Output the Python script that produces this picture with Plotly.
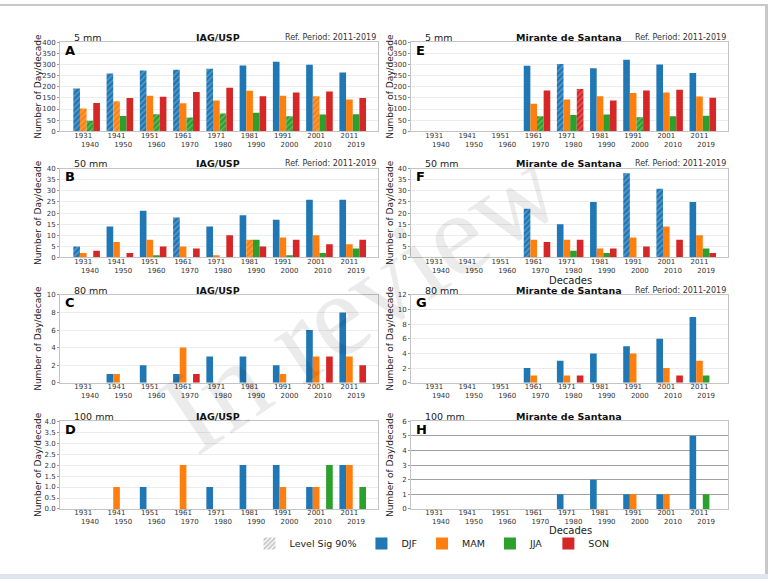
import plotly.graph_objects as go

W, H = 768, 583

# ---------------- data ----------------
tick_start = ["1931", "1941", "1951", "1961", "1971", "1981", "1991", "2001", "2011"]
tick_end = ["1940", "1950", "1960", "1970", "1980", "1990", "2000", "2010", "2019"]
seasons = ["DJF", "MAM", "JJA", "SON"]
season_colors = ["#1f77b4", "#ff7f0e", "#2ca02c", "#d62728"]

# Panel A: IAG/USP, 5 mm
A_DJF = [193, 260, 274, 277, 282, 296, 313, 300, 265]
A_MAM = [102, 135, 160, 126, 138, 182, 160, 158, 143]
A_JJA = [47, 69, 77, 62, 80, 83, 68, 75, 76]
A_SON = [127, 150, 155, 177, 196, 158, 174, 179, 150]
A_sig_DJF = [1, 1, 1, 1, 1, 0, 0, 0, 0]
A_sig_MAM = [1, 1, 0, 0, 0, 0, 0, 1, 0]
A_sig_JJA = [1, 0, 1, 1, 1, 0, 1, 0, 0]
A_sig_SON = [0, 0, 0, 0, 0, 0, 0, 0, 0]

# Panel B: IAG/USP, 50 mm
B_DJF = [5, 14, 21, 18, 14, 19, 17, 26, 26]
B_MAM = [2, 7, 8, 5, 1, 8, 9, 10, 6]
B_JJA = [0, 0, 1, 0, 0, 8, 1, 2, 4]
B_SON = [3, 2, 5, 4, 10, 5, 8, 6, 8]
B_sig_DJF = [1, 0, 0, 1, 0, 0, 0, 0, 0]
B_sig_MAM = [0, 0, 0, 0, 0, 1, 0, 0, 0]

# Panel C: IAG/USP, 80 mm
C_DJF = [0, 1, 2, 1, 3, 3, 2, 6, 8]
C_MAM = [0, 1, 0, 4, 0, 0, 1, 3, 3]
C_JJA = [0, 0, 0, 0, 0, 0, 0, 0, 0]
C_SON = [0, 0, 0, 1, 0, 0, 0, 3, 2]

# Panel D: IAG/USP, 100 mm
D_DJF = [0, 0, 1, 0, 1, 2, 2, 1, 2]
D_MAM = [0, 1, 0, 2, 0, 0, 1, 1, 2]
D_JJA = [0, 0, 0, 0, 0, 0, 0, 2, 1]
D_SON = [0, 0, 0, 0, 0, 0, 0, 0, 0]

# Panel E: Mirante de Santana, 5 mm
E_DJF = [0, 0, 0, 295, 303, 284, 322, 301, 262]
E_MAM = [0, 0, 0, 124, 143, 158, 172, 174, 156]
E_JJA = [0, 0, 0, 67, 73, 75, 63, 68, 70]
E_SON = [0, 0, 0, 183, 190, 138, 184, 187, 151]
E_sig_DJF = [0, 0, 0, 0, 1, 0, 0, 0, 0]
E_sig_JJA = [0, 0, 0, 1, 0, 0, 1, 0, 0]
E_sig_SON = [0, 0, 0, 0, 1, 0, 0, 0, 0]

# Panel F: Mirante de Santana, 50 mm
F_DJF = [0, 0, 0, 22, 15, 25, 38, 31, 25]
F_MAM = [0, 0, 0, 8, 8, 4, 9, 14, 10]
F_JJA = [0, 0, 0, 0, 3, 2, 0, 0, 4]
F_SON = [0, 0, 0, 7, 8, 4, 5, 8, 2]
F_sig_DJF = [0, 0, 0, 1, 0, 0, 1, 1, 0]

# Panel G: Mirante de Santana, 80 mm
G_DJF = [0, 0, 0, 2, 3, 4, 5, 6, 9]
G_MAM = [0, 0, 0, 1, 1, 0, 4, 2, 3]
G_JJA = [0, 0, 0, 0, 0, 0, 0, 0, 1]
G_SON = [0, 0, 0, 0, 1, 0, 0, 1, 0]

# Panel H: Mirante de Santana, 100 mm
H_DJF = [0, 0, 0, 0, 1, 2, 1, 1, 5]
H_MAM = [0, 0, 0, 0, 0, 0, 1, 1, 0]
H_JJA = [0, 0, 0, 0, 0, 0, 0, 0, 1]
H_SON = [0, 0, 0, 0, 0, 0, 0, 0, 0]

zeros = [0] * 9

# ---------------- layout helpers ----------------
def px_x(x):
    return x / W


def px_y(y):
    return 1 - y / H


col_px = [(60, 378), (411, 728)]
row_px = [(39, 129), (167, 257), (295, 384), (423, 512)]

panels = [
    ("A", 0, 0, [A_DJF, A_MAM, A_JJA, A_SON], [A_sig_DJF, A_sig_MAM, A_sig_JJA, A_sig_SON], 400, 50, "5 mm", "IAG/USP", True, [0, 1, 2, 3], None),
    ("B", 0, 1, [B_DJF, B_MAM, B_JJA, B_SON], [B_sig_DJF, B_sig_MAM, zeros, zeros], 40, 5, "50 mm", "IAG/USP", True, [0, 1, 2, 3], None),
    ("C", 0, 2, [C_DJF, C_MAM, C_JJA, C_SON], [zeros] * 4, 10, 2, "80 mm", "IAG/USP", False, [0, 1, 2, 3], None),
    ("D", 0, 3, [D_DJF, D_MAM, D_JJA, D_SON], [zeros] * 4, 4, 0.5, "100 mm", "IAG/USP", False, [0, 1, 3, 2], ".1f"),
    ("E", 1, 0, [E_DJF, E_MAM, E_JJA, E_SON], [E_sig_DJF, zeros, E_sig_JJA, E_sig_SON], 400, 50, "5 mm", "Mirante de Santana", True, [0, 1, 2, 3], None),
    ("F", 1, 1, [F_DJF, F_MAM, F_JJA, F_SON], [F_sig_DJF, zeros, zeros, zeros], 40, 5, "50 mm", "Mirante de Santana", True, [0, 1, 2, 3], None),
    ("G", 1, 2, [G_DJF, G_MAM, G_JJA, G_SON], [zeros] * 4, 12, 2, "80 mm", "Mirante de Santana", True, [0, 1, 2, 3], None),
    ("H", 1, 3, [H_DJF, H_MAM, H_JJA, H_SON], [zeros] * 4, 6, 1, "100 mm", "Mirante de Santana", False, [0, 1, 2, 3], None),
]

NB = "\u00a0"
ticktext = [f"{a}{NB*3}<br>{NB*3}{b}" for a, b in zip(tick_start, tick_end)]
xs = list(range(len(tick_start)))

FONT = "DejaVu Sans"
fig = go.Figure()
annotations = []
layout_axes = {}

for i, (letter, c, r, series, sigs, ymax, dtick, thr, station, ref, order, fmt) in enumerate(panels):
    n = i + 1
    xa = "x" if n == 1 else f"x{n}"
    ya = "y" if n == 1 else f"y{n}"
    xkey = "xaxis" if n == 1 else f"xaxis{n}"
    ykey = "yaxis" if n == 1 else f"yaxis{n}"
    x0, x1 = col_px[c]
    y0, y1 = row_px[r]
    for k in order:
        vals = series[k]
        sig = sigs[k]
        fig.add_trace(go.Bar(
            x=xs, y=vals, xaxis=xa, yaxis=ya, showlegend=False,
            name=seasons[k],
            marker=dict(
                color=season_colors[k],
                line=dict(width=0),
                pattern=dict(
                    shape=["/" if s else "" for s in sig],
                    fillmode="overlay",
                    fgcolor="rgba(255,255,255,0.55)",
                    size=4, solidity=0.35,
                ),
            ),
        ))
    grid_col = "#a0a0a0" if letter == "H" else "#ececec"
    layout_axes[xkey] = dict(
        domain=[px_x(x0), px_x(x1)], anchor=ya, range=[-0.8, 8.76],
        tickvals=xs, ticktext=ticktext, tickfont=dict(size=7, color="#333", family=FONT),
        showgrid=False, showline=True, mirror=True, linecolor="#c4c4c4", linewidth=1,
        ticks="", ticklabelstandoff=-3, zeroline=False, fixedrange=True,
    )
    layout_axes[ykey] = dict(
        domain=[px_y(y1), px_y(y0)], anchor=xa, range=[0, ymax], dtick=dtick,
        tickformat=fmt, tickfont=dict(size=7, color="#333", family=FONT),
        showgrid=True, gridcolor=grid_col, gridwidth=1,
        showline=True, mirror=True, linecolor="#c4c4c4", linewidth=1,
        ticks="outside", ticklen=2, tickcolor="#999", zeroline=False, fixedrange=True,
    )
    annotations.append(dict(x=px_x(x0 + 12), y=px_y(y0 - 5), xref="paper", yref="paper",
                            text=thr, showarrow=False, xanchor="left", yanchor="middle",
                            font=dict(size=9.5, color="#222", family=FONT)))
    st_x = 218 if c == 0 else 569
    annotations.append(dict(x=px_x(st_x), y=px_y(y0 - 5), xref="paper", yref="paper",
                            text=f"<b>{station}</b>", showarrow=False, xanchor="center", yanchor="middle",
                            font=dict(size=9.5, color="#111", family=FONT)))
    if ref:
        annotations.append(dict(x=px_x(x1), y=px_y(y0 - 5), xref="paper", yref="paper",
                                text="Ref. Period: 2011-2019", showarrow=False, xanchor="right", yanchor="middle",
                                font=dict(size=8, color="#333", family=FONT)))
    annotations.append(dict(x=px_x(x0 + 3), y=px_y(y0 + 8), xref="paper", yref="paper",
                            text=f"<b>{letter}</b>", showarrow=False, xanchor="left", yanchor="middle",
                            font=dict(size=13, color="#000", family=FONT)))
    annotations.append(dict(x=px_x(38 if c == 0 else 390), y=px_y((y0 + y1) / 2), xref="paper", yref="paper",
                            text="Number of Day/decade", showarrow=False, textangle=-90,
                            xanchor="center", yanchor="middle",
                            font=dict(size=9, color="#222", family=FONT)))

for yy in (280, 534):
    annotations.append(dict(x=px_x(570), y=px_y(yy), xref="paper", yref="paper", text="Decades",
                            showarrow=False, xanchor="center", yanchor="middle",
                            font=dict(size=10, color="#222", family=FONT)))

# watermark
annotations.append(dict(x=px_x(360), y=px_y(300), xref="paper", yref="paper", text="In review",
                        showarrow=False, textangle=-34, xanchor="center", yanchor="middle",
                        font=dict(size=118, color="rgba(0,0,0,0.08)", family="Liberation Serif")))

# legend-only traces on a hidden axis
layout_axes["xaxis9"] = dict(domain=[0, 0.01], anchor="y9", visible=False)
layout_axes["yaxis9"] = dict(domain=[0, 0.01], anchor="x9", visible=False)
fig.add_trace(go.Bar(x=[None], y=[None], xaxis="x9", yaxis="y9", name="Level Sig 90%",
                     marker=dict(color="white", line=dict(width=0),
                                 pattern=dict(shape="/", fgcolor="#bbbbbb", bgcolor="#f4f4f4",
                                              size=4, solidity=0.4, fillmode="replace"))))
for k in range(4):
    fig.add_trace(go.Bar(x=[None], y=[None], xaxis="x9", yaxis="y9", name=seasons[k],
                         marker=dict(color=season_colors[k], line=dict(width=0))))

shapes = [
    dict(type="rect", xref="paper", yref="paper", x0=0, x1=1, y0=px_y(2), y1=1,
         fillcolor="#c8c8c8", line=dict(width=0), layer="below"),
    dict(type="rect", xref="paper", yref="paper", x0=px_x(765), x1=1, y0=0, y1=1,
         fillcolor="#c8c8c8", line=dict(width=0), layer="below"),
    dict(type="rect", xref="paper", yref="paper", x0=0, x1=1, y0=0, y1=px_y(578),
         fillcolor="#dfe5ef", line=dict(width=0), layer="below"),
]

fig.update_layout(
    width=W, height=H, margin=dict(l=0, r=0, t=0, b=0),
    paper_bgcolor="white", plot_bgcolor="white",
    barmode="group", bargap=0.2, bargroupgap=0,
    font=dict(family=FONT),
    annotations=annotations, shapes=shapes,
    legend=dict(orientation="h", x=px_x(432), xanchor="center", y=px_y(547), yanchor="middle",
                font=dict(size=9.5, color="#222", family=FONT), itemwidth=30,
                bgcolor="rgba(0,0,0,0)", traceorder="normal"),
    **layout_axes,
)

fig.write_html("out.html", config={"displayModeBar": False},
               post_script="document.body.style.margin='0';document.body.style.padding='0';")
